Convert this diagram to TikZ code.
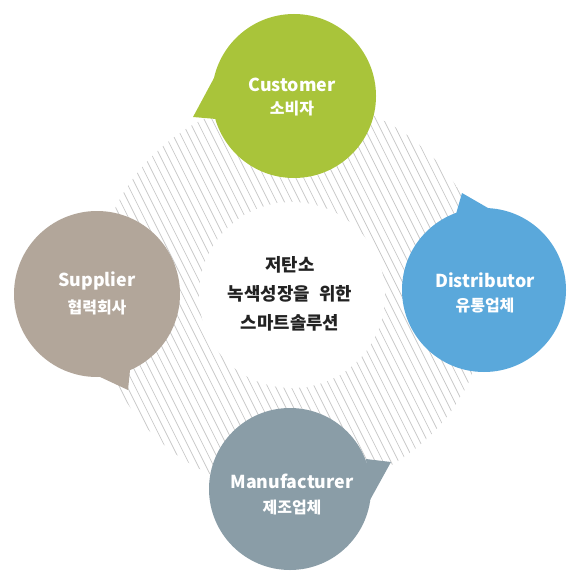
\documentclass[tikz,border=0pt]{standalone}
\usepackage{fontspec}
\newfontfamily\kr{Noto Sans CJK KR}
\definecolor{cgreen}{HTML}{A9C43A}
\definecolor{cblue}{HTML}{5AA8DB}
\definecolor{ctaupe}{HTML}{B2A69A}
\definecolor{cgray}{HTML}{8A9DA7}
\definecolor{hatch}{HTML}{C8C8C8}
\definecolor{ctext}{HTML}{222222}
\tikzset{
  bubbletext/.style={text=white, font=\kr\bfseries, align=center},
  centertext/.style={text=ctext, font=\kr\bfseries\fontsize{17.8}{29}\selectfont, align=center},
  hatchline/.style={draw=hatch, line width=0.75pt}
}
\begin{document}
\begin{tikzpicture}[x=1pt,y=-1pt]
\useasboundingbox (0,0) rectangle (566,572);
% hatched ring
\begin{scope}
  \clip (292,295) circle (197);
  \foreach \i in {-70,...,70}
    \draw[hatchline] ({292+\i*7.8-200},-105) -- ({292+\i*7.8+200},695);
\end{scope}
\fill[white] (292,295) circle (93);
% Customer
\fill[cgreen] (294,96) circle (82);
\fill[cgreen] (214,78) -- (193,117) -- (216,119) -- cycle;
% Distributor
\fill[cblue] (484,290) circle (82);
\fill[cblue] (456,214) -- (462,193) -- (488,208) -- cycle;
% Supplier
\fill[ctaupe] (97,294) circle (83);
\fill[ctaupe] (98,376) -- (128,390) -- (130,370) -- cycle;
% Manufacturer
\fill[cgray] (290,489) circle (81);
\fill[cgray] (366,459) -- (391,462) -- (370,500) -- cycle;
% texts
\node[bubbletext] (cust) at (292,85) {\fontsize{17.8}{20}\selectfont Customer};
\node[bubbletext] (custk) at (292,109) {\fontsize{16}{20}\selectfont 소비자};
\node[bubbletext] (dist) at (485,280) {\fontsize{17.8}{20}\selectfont Distributor};
\node[bubbletext] (distk) at (485,306) {\fontsize{16}{20}\selectfont 유통업체};
\node[bubbletext] (supp) at (97,281) {\fontsize{17.8}{20}\selectfont Supplier};
\node[bubbletext] (suppk) at (97,307) {\fontsize{16}{20}\selectfont 협력회사};
\node[bubbletext] (manu) at (292,481) {\fontsize{17.8}{20}\selectfont Manufacturer};
\node[bubbletext] (manuk) at (292,507) {\fontsize{16}{20}\selectfont 제조업체};
\node[centertext] (center) at (290,294) {저탄소\\녹색성장을\hspace{0.3em} 위한\\스마트솔루션};
\end{tikzpicture}
\end{document}
